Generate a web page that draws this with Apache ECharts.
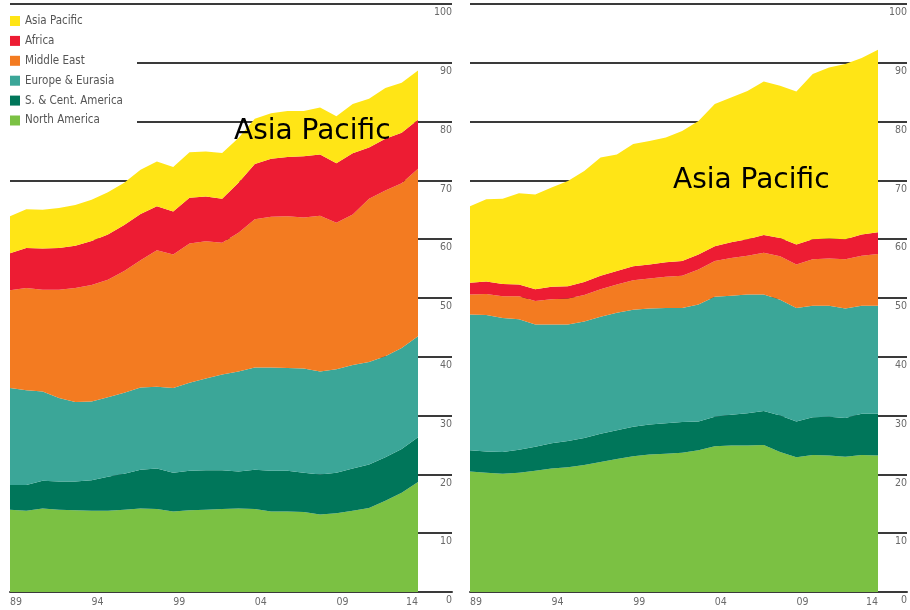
<!DOCTYPE html>
<html>
<head>
<meta charset="utf-8">
<script src="https://cdn.jsdelivr.net/npm/echarts@6/dist/echarts.min.js"></script>
<style>html,body{margin:0;padding:0;background:#fff}#c{width:910px;height:610px}</style>
</head>
<body>
<div id="c"></div>
<script>
// ---- data (million barrels daily), 1989-2014 ----
const years = ['1989','1990','1991','1992','1993','1994','1995','1996','1997','1998','1999','2000','2001','2002','2003','2004','2005','2006','2007','2008','2009','2010','2011','2012','2013','2014'];
const yTicks = [0,10,20,30,40,50,60,70,80,90,100];
const regionNames = ['North America','S. & Cent. America','Europe & Eurasia','Middle East','Africa','Asia Pacific'];
const legendOrder = ['Asia Pacific','Africa','Middle East','Europe & Eurasia','S. & Cent. America','North America'];
const panelLabel = 'Asia Pacific';

// left panel: production
const prodNorthAmerica = [14.0,13.8,14.2,14.0,13.9,13.8,13.8,14.0,14.2,14.1,13.7,13.9,14.0,14.1,14.2,14.1,13.7,13.7,13.6,13.2,13.4,13.8,14.3,15.5,16.9,18.7];
const prodSCAmerica    = [4.2,4.4,4.7,4.8,4.9,5.2,5.8,6.1,6.6,6.9,6.6,6.7,6.7,6.6,6.3,6.7,6.9,6.9,6.7,6.8,6.9,7.2,7.4,7.4,7.4,7.6];
const prodEurope       = [16.5,16.1,15.2,14.2,13.5,13.4,13.5,13.8,14.0,13.9,14.4,15.0,15.6,16.3,17.0,17.4,17.6,17.5,17.7,17.5,17.6,17.6,17.4,17.2,17.2,17.2];
const prodMiddleEast   = [16.6,17.4,17.3,18.4,19.4,19.8,20.0,20.7,21.6,23.2,22.7,23.65,23.35,22.4,23.6,25.2,25.6,25.8,25.7,26.5,24.9,25.6,27.8,28.2,28.0,28.5];
const prodAfrica       = [6.3,6.8,7.0,7.1,7.2,7.5,7.7,7.8,7.9,7.5,7.3,7.8,7.6,7.5,8.5,9.4,9.9,10.1,10.4,10.4,10.1,10.4,8.7,8.8,8.6,8.3];
const prodAsiaPacific  = [6.3,6.6,6.6,6.8,6.9,7.0,7.2,7.2,7.5,7.6,7.6,7.75,7.65,7.75,7.6,7.7,7.7,7.8,7.7,8.0,8.0,8.4,8.3,8.6,8.5,8.4];

// right panel: consumption
const consNorthAmerica = [20.5,20.3,20.1,20.3,20.6,21.0,21.2,21.6,22.1,22.6,23.1,23.4,23.5,23.7,24.1,24.8,24.9,24.9,25.0,23.8,22.9,23.3,23.2,23.0,23.3,23.2];
const consSCAmerica    = [3.6,3.6,3.7,3.9,4.1,4.3,4.5,4.6,4.8,4.9,5.0,5.1,5.2,5.2,4.9,5.0,5.25,5.5,5.8,6.2,6.1,6.4,6.6,6.6,7.0,7.1];
const consEurope       = [23.1,23.2,22.8,22.2,20.8,20.2,19.8,19.8,19.9,20.0,19.9,19.7,19.6,19.4,19.9,20.4,20.25,20.2,19.8,19.7,19.3,19.0,18.9,18.6,18.4,18.4];
const consMiddleEast   = [3.4,3.6,3.7,3.9,4.0,4.3,4.4,4.5,4.7,4.8,5.0,5.1,5.3,5.5,5.95,6.1,6.4,6.6,7.1,7.4,7.4,7.9,8.0,8.4,8.5,8.8];
const consAfrica       = [2.0,2.1,2.1,2.0,2.0,2.1,2.1,2.2,2.3,2.3,2.4,2.4,2.5,2.5,2.55,2.5,2.7,2.8,3.0,3.1,3.4,3.4,3.4,3.4,3.6,3.7];
const consAsiaPacific  = [13.0,14.0,14.5,15.5,16.1,16.9,17.9,18.9,20.1,19.8,20.8,21.0,21.2,22.1,22.7,24.2,24.6,25.2,26.1,25.9,26.0,28.1,29.1,29.8,30.0,31.0];

// ---- styles ----
const colors = {
  'North America': '#7bc143',
  'S. & Cent. America': '#00765a',
  'Europe & Eurasia': '#3ba698',
  'Middle East': '#f37b21',
  'Africa': '#ed1c33',
  'Asia Pacific': '#ffe516'
};
const condensed = "'Liberation Sans Narrow','Arial Narrow','DejaVu Sans Condensed',sans-serif";
const lineCol = '#3a3a3a';
const labelCol = '#6a6a6a';

const prodSets = [prodNorthAmerica, prodSCAmerica, prodEurope, prodMiddleEast, prodAfrica, prodAsiaPacific];
const consSets = [consNorthAmerica, consSCAmerica, consEurope, consMiddleEast, consAfrica, consAsiaPacific];

function dataX(gi) {
  return {
    type: 'category', gridIndex: gi, data: years, boundaryGap: false,
    axisLine: {show: false}, axisTick: {show: false}, splitLine: {show: false},
    axisLabel: {
      interval: function (i) { return i % 5 === 0; },
      formatter: function (v) { return v.slice(2); },
      align: 'left', alignMaxLabel: 'right', margin: 5,
      color: labelCol, fontSize: 10.5, fontFamily: condensed
    }
  };
}
function decoX(gi) {
  return {
    type: 'value', gridIndex: gi, min: 0, max: 1,
    axisLine: {show: true, onZero: false, lineStyle: {color: lineCol, width: 2}},
    axisTick: {show: false}, axisLabel: {show: false}, splitLine: {show: false}
  };
}
function dataY(gi) {
  return {type: 'value', gridIndex: gi, min: yTicks[0], max: yTicks[yTicks.length - 1], show: false};
}
function decoY(gi) {
  return {
    type: 'value', gridIndex: gi, position: 'right',
    min: yTicks[0], max: yTicks[yTicks.length - 1], interval: yTicks[1] - yTicks[0],
    axisLine: {show: false}, axisTick: {show: false},
    splitLine: {show: true, lineStyle: {color: lineCol, width: 2}},
    axisLabel: {inside: true, margin: 0, verticalAlign: 'top', padding: [3, 0, 0, 0],
      color: labelCol, fontSize: 10.5, fontFamily: condensed}
  };
}
function mkSeries(sets, axisIdx, stack) {
  return regionNames.map(function (name, k) {
    return {
      name: name, type: 'line', xAxisIndex: axisIdx, yAxisIndex: axisIdx, stack: stack,
      data: sets[k], symbol: 'none', showSymbol: false, silent: true,
      lineStyle: {width: 0}, itemStyle: {color: colors[name]},
      areaStyle: {color: colors[name], opacity: 1},
      emphasis: {disabled: true}
    };
  });
}

const chart = echarts.init(document.getElementById('c'), null, {renderer: 'canvas'});
chart.setOption({
  animation: false,
  backgroundColor: '#fff',
  grid: [
    {left: 10, top: 4, width: 408, height: 588},
    {left: 10, top: 4, width: 442, height: 588},
    {left: 470, top: 4, width: 408, height: 588},
    {left: 470, top: 4, width: 442, height: 588}
  ],
  xAxis: [dataX(0), decoX(1), dataX(2), decoX(3)],
  yAxis: [dataY(0), decoY(1), dataY(2), decoY(3)],
  legend: {
    data: legendOrder, orient: 'vertical', left: 10, top: 15, padding: 0,
    itemWidth: 10, itemHeight: 10, itemGap: 7.9, icon: 'rect', selectedMode: false,
    textStyle: {color: '#555', fontSize: 11.5, fontFamily: condensed}
  },
  graphic: [
    {type: 'rect', shape: {x: 0, y: 9, width: 137, height: 120}, style: {fill: '#fff'}, z: 3, silent: true},
    {type: 'text', x: 234, y: 132, z: 10, silent: true,
      style: {text: panelLabel, font: '28px "DejaVu Sans"', fill: '#000', verticalAlign: 'middle'}},
    {type: 'text', x: 673, y: 181, z: 10, silent: true,
      style: {text: panelLabel, font: '28px "DejaVu Sans"', fill: '#000', verticalAlign: 'middle'}}
  ],
  series: mkSeries(prodSets, 0, 'prod').concat(mkSeries(consSets, 2, 'cons'))
});
</script>
</body>
</html>
